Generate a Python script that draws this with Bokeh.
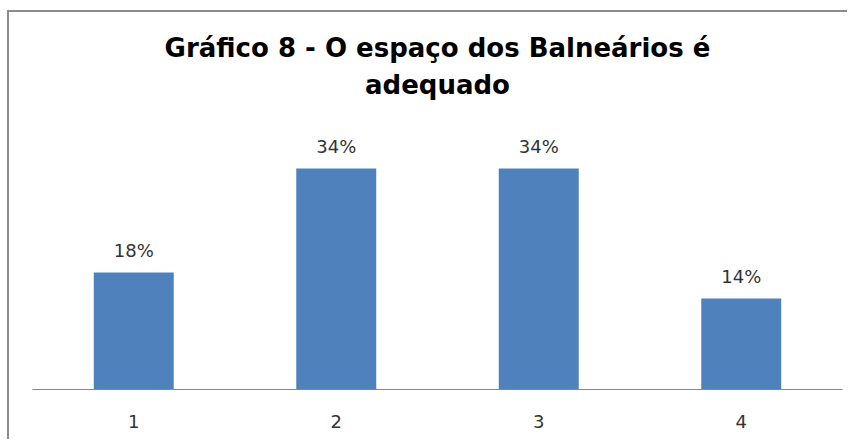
from bokeh.plotting import figure
from bokeh.models import ColumnDataSource, LabelSet, Range1d, Title
from bokeh.core.properties import value
from bokeh.embed import file_html
from bokeh.resources import INLINE

categories = ["1", "2", "3", "4"]
values = [18, 34, 34, 14]
labels = ["18%", "34%", "34%", "14%"]
title_lines = ["Gráfico 8 - O espaço dos Balneários é", "adequado"]

source = ColumnDataSource(dict(cat=categories, val=values, lab=labels))

p = figure(width=840, height=429, x_range=categories, y_range=Range1d(0, 44.15),
           output_backend="svg", toolbar_location=None,
           min_border_left=23, min_border_right=7, min_border_bottom=52, min_border_top=90)
p.styles = {"border-top": "2px solid #8c8c8c", "border-left": "2px solid #8c8c8c",
            "box-sizing": "border-box", "margin-left": "7px", "margin-top": "10px"}

p.vbar(x="cat", top="val", width=0.395, source=source, color="#4F81BD", line_color=None)

p.add_layout(LabelSet(x="cat", y="val", text="lab", source=source, y_offset=15,
                      text_align="center", text_baseline="alphabetic",
                      text_font=value("DejaVu Sans"), text_font_size="18px", text_color="#333333"))

for txt in reversed(title_lines):
    p.add_layout(Title(text=txt, align="center", vertical_align="bottom", standoff=5,
                       text_font="DejaVu Sans", text_font_size="26px", text_font_style="bold",
                       text_color="#000000"), "above")

p.yaxis.visible = False
p.xgrid.grid_line_color = None
p.ygrid.grid_line_color = None
p.outline_line_color = None
p.xaxis.axis_line_color = "#868686"
p.xaxis.axis_line_width = 1
p.xaxis.major_tick_line_color = None
p.xaxis.minor_tick_line_color = None
p.xaxis.major_label_standoff = 19
p.xaxis.major_label_text_font = "DejaVu Sans"
p.xaxis.major_label_text_font_size = "18px"
p.xaxis.major_label_text_color = "#333333"
p.x_range.range_padding = 0

open("out.html", "w").write(file_html(p, INLINE))
